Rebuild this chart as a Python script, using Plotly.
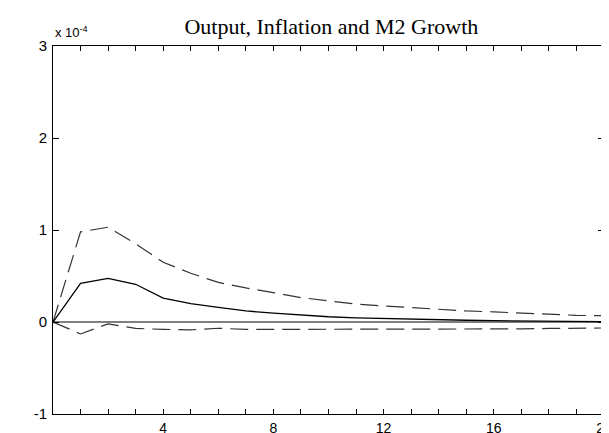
import plotly.graph_objects as go

# horizon (periods)
periods = list(range(0, 21))
# values in units of 1e-4
response = [0.0, 0.42, 0.475, 0.41, 0.26, 0.20, 0.16, 0.12, 0.097, 0.075, 0.057,
            0.045, 0.037, 0.03, 0.025, 0.019, 0.014, 0.010, 0.007, 0.005, 0.004]
upper_band = [0.0, 0.98, 1.03, 0.85, 0.65, 0.53, 0.43, 0.37, 0.32, 0.265, 0.23,
              0.195, 0.175, 0.158, 0.135, 0.12, 0.11, 0.097, 0.083, 0.072, 0.068]
lower_band = [0.0, -0.13, -0.02, -0.07, -0.08, -0.085, -0.068, -0.08, -0.08, -0.08, -0.08,
              -0.08, -0.08, -0.08, -0.08, -0.08, -0.08, -0.075, -0.07, -0.067, -0.065]
zero_line = [0.0] * len(periods)

x_tick_vals = list(range(1, 21))
x_tick_text = [str(v) if v % 4 == 0 else "" for v in x_tick_vals]
y_tick_vals = [-1, 0, 1, 2, 3]
y_tick_text = ["-1", "0", "1", "2", "3"]

title_text = "Output, Inflation and M2 Growth"
exponent_text = "x 10<sup>-4</sup>"

fig = go.Figure()
fig.add_trace(go.Scatter(x=periods, y=zero_line, mode="lines",
                         line=dict(color="black", width=1), hoverinfo="skip"))
fig.add_trace(go.Scatter(x=periods, y=upper_band, mode="lines",
                         line=dict(color="#333333", width=1.2, dash="18px,8px")))
fig.add_trace(go.Scatter(x=periods, y=lower_band, mode="lines",
                         line=dict(color="#333333", width=1.2, dash="18px,8px")))
fig.add_trace(go.Scatter(x=periods, y=response, mode="lines",
                         line=dict(color="black", width=1.3)))

fig.update_layout(
    width=609, height=433,
    margin=dict(l=45, r=5, t=38, b=20),
    paper_bgcolor="white", plot_bgcolor="white",
    showlegend=False,
    title=dict(text=title_text, x=0.531, xanchor="center", y=0.958, yanchor="middle",
               font=dict(family="Liberation Serif, Times New Roman, serif", size=22, color="black")),
    font=dict(family="Liberation Sans, Arial, sans-serif", size=15, color="black"),
)
fig.update_xaxes(range=[0, 20], tickvals=x_tick_vals, ticktext=x_tick_text,
                 ticks="inside", ticklen=5, tickcolor="black", tickwidth=1,
                 showline=True, linecolor="black", linewidth=1, mirror="ticks",
                 showgrid=False, zeroline=False, ticklabelstandoff=1,
                 ticklabeloverflow="allow", tickfont=dict(size=14))
fig.update_yaxes(range=[-1, 3], tickvals=y_tick_vals, ticktext=y_tick_text,
                 ticks="inside", ticklen=6, tickcolor="black", tickwidth=1,
                 showline=True, linecolor="black", linewidth=1, mirror="ticks",
                 showgrid=False, zeroline=False, ticklabelstandoff=2)
fig.add_annotation(text=exponent_text, xref="paper", yref="paper", x=0, y=1,
                   xanchor="left", yanchor="bottom", showarrow=False, yshift=4,
                   font=dict(family="Liberation Sans, Arial, sans-serif", size=13, color="black"))

fig.write_html("out.html")
